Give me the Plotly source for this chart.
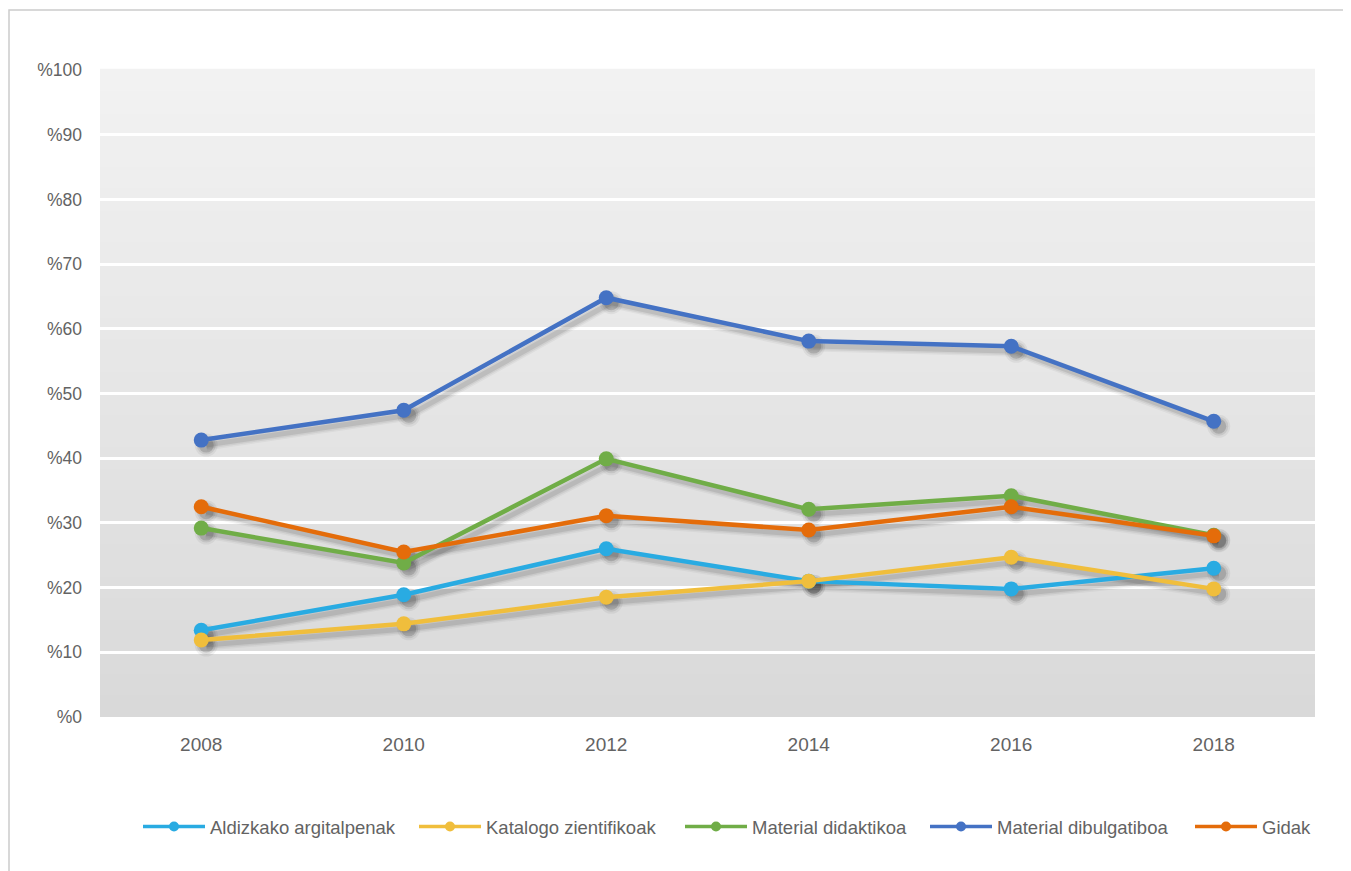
import plotly.graph_objects as go

years = ["2008", "2010", "2012", "2014", "2016", "2018"]
series_names = ["Aldizkako argitalpenak", "Katalogo zientifikoak", "Material didaktikoa",
                "Material dibulgatiboa", "Gidak"]
aldizkako = [13.4, 18.9, 26.0, 21.0, 19.8, 23.0]
katalogo = [11.9, 14.4, 18.5, 21.0, 24.7, 19.8]
didaktikoa = [29.2, 23.8, 39.9, 32.1, 34.2, 28.1]
dibulgatiboa = [42.8, 47.4, 64.8, 58.1, 57.3, 45.7]
gidak = [32.5, 25.5, 31.1, 28.9, 32.5, 28.0]
colors = ["#29ABE2", "#F0BE3C", "#70AD47", "#4472C4", "#E46C0A"]
tick_vals = [0, 10, 20, 30, 40, 50, 60, 70, 80, 90, 100]
tick_text = ["%" + str(v) for v in tick_vals]

all_series = [aldizkako, katalogo, didaktikoa, dibulgatiboa, gidak]
xs = list(range(len(years)))

W, H = 1351, 871
ml, mr, mt, mb = 92, 44, 62, 162
pw = W - ml - mr
ph = H - mt - mb

fig = go.Figure()

# soft shadows (drawn on base axes whose range is shifted by a few pixels)
shadow_layers = [(11, 0.04, 23, 0.05), (8, 0.06, 19, 0.08), (5, 0.09, 15, 0.14)]
for vals in all_series:
    for lw, la, ms, ma in shadow_layers:
        fig.add_trace(go.Scatter(x=xs, y=vals, mode="lines+markers",
                                 line=dict(color="rgba(0,0,0,%.3f)" % la, width=lw),
                                 marker=dict(size=ms, color="rgba(0,0,0,%.3f)" % ma),
                                 xaxis="x", yaxis="y", showlegend=False, hoverinfo="skip"))

for name, vals, c in zip(series_names, all_series, colors):
    fig.add_trace(go.Scatter(x=xs, y=vals, mode="lines+markers", name=name,
                             line=dict(color=c, width=4.5),
                             marker=dict(size=15, color=c),
                             xaxis="x2", yaxis="y2", showlegend=False))

# legend-only entries, each in its own legend box
legend_px = [143, 419, 685, 930, 1195]
legend_layout = {}
for i, (name, c) in enumerate(zip(series_names, colors)):
    key = "legend" if i == 0 else "legend%d" % (i + 1)
    fig.add_trace(go.Scatter(x=[None], y=[None], mode="lines+markers", name=name,
                             line=dict(color=c, width=3.5),
                             marker=dict(size=10, color=c),
                             xaxis="x2", yaxis="y2", showlegend=True, legend=key))
    legend_layout[key] = dict(orientation="h", x=(legend_px[i] - 8 - 5 - ml) / pw,
                              xanchor="left", y=-110 / ph, yanchor="middle",
                              font=dict(size=18.5, color="#636363"), itemwidth=62,
                              bgcolor="rgba(0,0,0,0)")

# gradient background bands
n = 60
shapes = []
top = (242, 242, 242)
bot = (217, 217, 217)
for i in range(n):
    f = i / (n - 1)
    col = tuple(round(bot[k] + (top[k] - bot[k]) * f) for k in range(3))
    shapes.append(dict(type="rect", xref="paper", yref="paper", x0=0, x1=1,
                       y0=i / n, y1=(i + 1) / n + 0.002, line=dict(width=0),
                       fillcolor="rgb(%d,%d,%d)" % col, layer="below"))
# outer frame
fx0 = (1 - ml) / pw
fy1 = 1 + (mt - 2) / ph
shapes.append(dict(type="rect", xref="paper", yref="paper", x0=fx0, x1=1 + (mr + 20) / pw,
                   y0=-(mb + 20) / ph, y1=fy1, line=dict(color="#CCCCCC", width=1.5),
                   fillcolor="rgba(0,0,0,0)", layer="below"))

dx = 5 / pw * 6
dy = 5 / ph * 100
font_fam = "Liberation Sans, Arial, sans-serif"
fig.update_layout(
    width=W, height=H,
    margin=dict(l=ml, r=mr, t=mt, b=mb),
    paper_bgcolor="white", plot_bgcolor="rgba(0,0,0,0)",
    shapes=shapes,
    font=dict(family=font_fam, size=16, color="#636363"),
    xaxis=dict(range=[-0.5 - dx, 5.5 - dx], visible=False, showgrid=False, zeroline=False),
    yaxis=dict(range=[0 + dy, 100 + dy], visible=False, showgrid=False, zeroline=False),
    xaxis2=dict(overlaying="x", range=[-0.5, 5.5], tickmode="array",
                tickvals=xs, ticktext=years, showgrid=False,
                zeroline=False, ticks="", tickfont=dict(size=19, color="#636363"),
                ticklabelstandoff=14, anchor="y2"),
    yaxis2=dict(overlaying="y", range=[0, 100], tickmode="array", tickvals=tick_vals,
                ticktext=tick_text, showgrid=True, gridcolor="white", gridwidth=2.5,
                zeroline=False, ticks="", tickfont=dict(size=17.5, color="#636363"),
                ticklabelstandoff=17, anchor="x2"),
    **legend_layout,
)

fig.write_html("out.html")
